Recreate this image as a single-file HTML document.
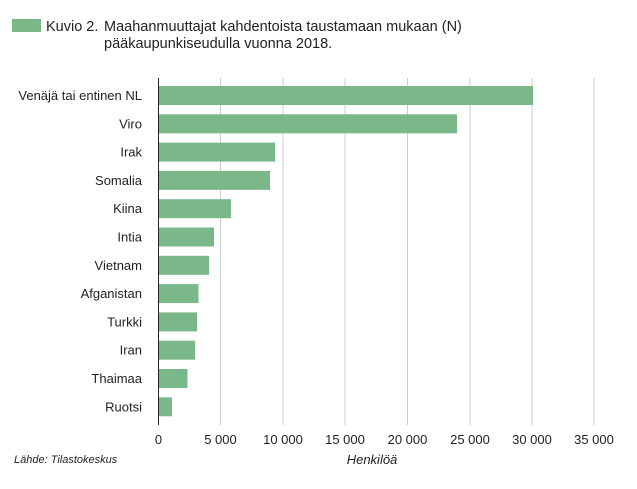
<!DOCTYPE html>
<html><head><meta charset="utf-8"><style>
body{margin:0;background:#fff;}
svg text{font-family:"Liberation Sans",sans-serif;fill:#222;}
</style></head><body>
<svg width="637" height="484" viewBox="0 0 637 484" xmlns="http://www.w3.org/2000/svg">
<rect x="12" y="19" width="29" height="13" fill="#7ab88a"/>
<text x="46" y="31" font-size="14.5">Kuvio 2.</text>
<text x="104" y="31" font-size="14.5">Maahanmuuttajat kahdentoista taustamaan mukaan (N)</text>
<text x="104" y="48" font-size="14.5">pääkaupunkiseudulla vuonna 2018.</text>
<g stroke="#ccc" stroke-width="1">
<line x1="220.5" y1="78" x2="220.5" y2="425"/>
<line x1="283" y1="78" x2="283" y2="425"/>
<line x1="345" y1="78" x2="345" y2="425"/>
<line x1="407.5" y1="78" x2="407.5" y2="425"/>
<line x1="470" y1="78" x2="470" y2="425"/>
<line x1="532" y1="78" x2="532" y2="425"/>
<line x1="594" y1="78" x2="594" y2="425"/>
</g>
<g fill="#7ab88a">
<rect x="158" y="86" width="375" height="19"/>
<rect x="158" y="114.3" width="299" height="19"/>
<rect x="158" y="142.6" width="117" height="19"/>
<rect x="158" y="170.9" width="112" height="19"/>
<rect x="158" y="199.2" width="73" height="19"/>
<rect x="158" y="227.5" width="56" height="19"/>
<rect x="158" y="255.8" width="51" height="19"/>
<rect x="158" y="284.1" width="40.5" height="19"/>
<rect x="158" y="312.4" width="39" height="19"/>
<rect x="158" y="340.7" width="37" height="19"/>
<rect x="158" y="369" width="29.5" height="19"/>
<rect x="158" y="397.3" width="14" height="19"/>
</g>
<line x1="158.5" y1="78" x2="158.5" y2="425" stroke="#222" stroke-width="1"/>
<g font-size="13" text-anchor="end">
<text x="142" y="100">Venäjä tai entinen NL</text>
<text x="142" y="128.3">Viro</text>
<text x="142" y="156.6">Irak</text>
<text x="142" y="184.9">Somalia</text>
<text x="142" y="213.2">Kiina</text>
<text x="142" y="241.5">Intia</text>
<text x="142" y="269.8">Vietnam</text>
<text x="142" y="298.1">Afganistan</text>
<text x="142" y="326.4">Turkki</text>
<text x="142" y="354.7">Iran</text>
<text x="142" y="383">Thaimaa</text>
<text x="142" y="411.3">Ruotsi</text>
</g>
<g font-size="13" text-anchor="middle">
<text x="158.5" y="444">0</text>
<text x="220.5" y="444">5 000</text>
<text x="283" y="444">10 000</text>
<text x="345" y="444">15 000</text>
<text x="407.5" y="444">20 000</text>
<text x="470" y="444">25 000</text>
<text x="532" y="444">30 000</text>
<text x="594" y="444">35 000</text>
<text x="372" y="464" font-style="italic">Henkilöä</text>
</g>
<text x="14" y="463" font-size="11" font-style="italic">Lähde: Tilastokeskus</text>
</svg>
</body></html>
